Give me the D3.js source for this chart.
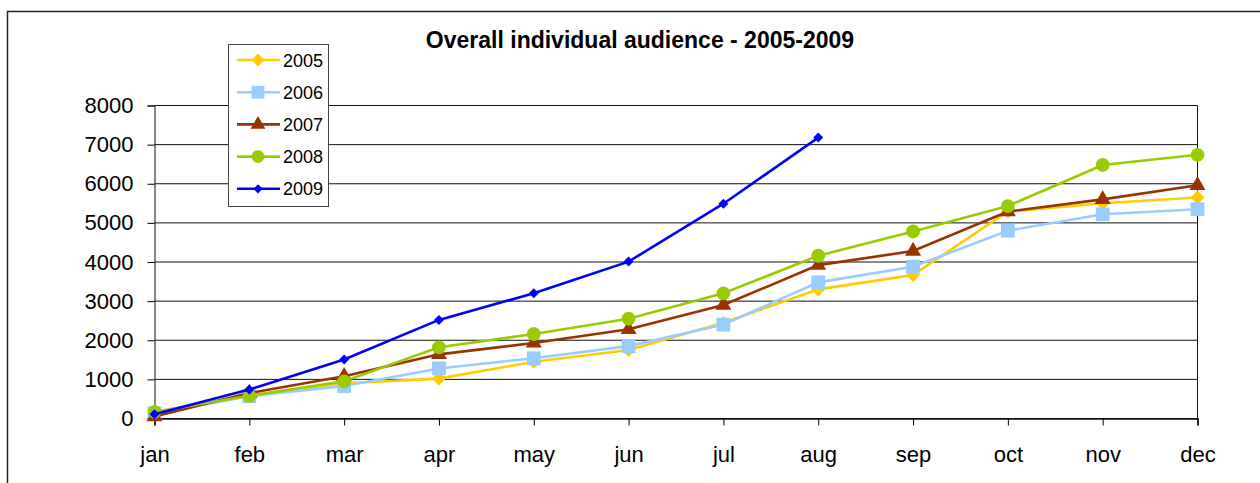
<!DOCTYPE html>
<html>
<head>
<meta charset="utf-8">
<script src="https://cdn.jsdelivr.net/npm/d3@7"></script>
<style>
  body { margin: 0; background: #fff; }
  text { font-family: "Liberation Sans", Arial, sans-serif; }
</style>
</head>
<body>
<svg></svg>
<script>
// values
const months = ["jan", "feb", "mar", "apr", "may", "jun", "jul", "aug", "sep", "oct", "nov", "dec"];
const years = ["2005", "2006", "2007", "2008", "2009"];
const s2005 = [100, 600, 900, 1020, 1450, 1750, 2450, 3300, 3670, 5290, 5500, 5650];
const s2006 = [130, 570, 830, 1280, 1540, 1850, 2400, 3480, 3880, 4800, 5220, 5350];
const s2007 = [50, 650, 1080, 1640, 1930, 2280, 2900, 3920, 4280, 5290, 5600, 5960];
const s2008 = [170, 580, 950, 1820, 2160, 2550, 3200, 4160, 4780, 5430, 6480, 6740];
const s2009 = [110, 740, 1510, 2520, 3200, 4010, 5490, 7180];
const yTicks = [0, 1000, 2000, 3000, 4000, 5000, 6000, 7000, 8000];

const svgWidth = 1260;
const svgHeight = 483;

// excel style diamond (square turned 45deg)
const diamond = {
    draw(ctx, size) {
        const r = Math.sqrt(size / 2);
        ctx.moveTo(0, -r);
        ctx.lineTo(r, 0);
        ctx.lineTo(0, r);
        ctx.lineTo(-r, 0);
        ctx.closePath();
    }
};

const series = [
    { name: years[0], values: s2005, color: "#FFCC00", shape: diamond, size: 98 },
    { name: years[1], values: s2006, color: "#99CCFF", shape: d3.symbolSquare, size: 190 },
    { name: years[2], values: s2007, color: "#993300", shape: d3.symbolTriangle, size: 110 },
    { name: years[3], values: s2008, color: "#99CC00", shape: d3.symbolCircle, size: 150 },
    { name: years[4], values: s2009, color: "#0000FF", shape: diamond, size: 50 }
];

function drawChart() {
    const svg = d3.select("svg")
        .attr("width", svgWidth)
        .attr("height", svgHeight);

    // chart border (only top and left show in the frame)
    svg.append("rect")
        .attr("x", 7.5).attr("y", 11.5)
        .attr("width", 1300).attr("height", 500)
        .attr("fill", "none")
        .attr("stroke", "#222")
        .attr("stroke-width", 1.5);

    const x = d3.scalePoint().domain(months).range([154.5, 1197.5]);
    const y = d3.scaleLinear().domain([0, 8000]).range([418.5, 105.5]);

    svg.append("text")
        .attr("x", 640).attr("y", 48)
        .attr("text-anchor", "middle")
        .style("font-size", "23px")
        .style("font-weight", "bold")
        .text("Overall individual audience - 2005-2009");

    // gridlines
    svg.append("g")
        .selectAll("line")
        .data(yTicks)
        .enter()
        .append("line")
        .attr("x1", 154.5).attr("x2", 1197.5)
        .attr("y1", d => y(d)).attr("y2", d => y(d))
        .attr("stroke", "#111")
        .attr("stroke-width", 1);

    // right edge of plot
    svg.append("line")
        .attr("x1", 1197.5).attr("x2", 1197.5)
        .attr("y1", y(8000)).attr("y2", y(0))
        .attr("stroke", "#111");

    const yAxis = svg.append("g")
        .attr("transform", "translate(154.5,0)")
        .call(d3.axisLeft(y).tickValues(yTicks).tickSize(7).tickPadding(14).tickFormat(d3.format("d")));
    yAxis.selectAll("text").style("font-size", "22px").attr("fill", "#000");
    yAxis.select(".domain").attr("stroke", "#111");

    const xAxis = svg.append("g")
        .attr("transform", "translate(0,418.5)")
        .call(d3.axisBottom(x).tickSize(7).tickPadding(36));
    xAxis.selectAll("text").style("font-size", "22px").attr("fill", "#000").attr("dy", 0);
    xAxis.select(".domain").attr("stroke", "#111").attr("stroke-width", 1.5);

    const line = d3.line()
        .x((d, i) => x(months[i]))
        .y(d => y(d));

    series.forEach(s => {
        const g = svg.append("g");
        g.append("path")
            .attr("d", line(s.values))
            .attr("fill", "none")
            .attr("stroke", s.color)
            .attr("stroke-width", 2.6);
        g.selectAll("path.mark")
            .data(s.values)
            .enter()
            .append("path")
            .attr("class", "mark")
            .attr("d", d3.symbol().type(s.shape).size(s.size))
            .attr("transform", (d, i) => `translate(${x(months[i])},${y(d)})`)
            .attr("fill", s.color);
    });

    // legend
    const legend = svg.append("g");
    legend.append("rect")
        .attr("x", 228.5).attr("y", 44.5)
        .attr("width", 100).attr("height", 162)
        .attr("fill", "#fff")
        .attr("stroke", "#444");

    const item = legend.selectAll("g.item")
        .data(series)
        .enter()
        .append("g")
        .attr("class", "item")
        .attr("transform", (d, i) => `translate(0,${60 + i * 32.2})`);
    item.append("line")
        .attr("x1", 237).attr("x2", 280)
        .attr("stroke", d => d.color)
        .attr("stroke-width", 2.6);
    item.append("path")
        .attr("d", d => d3.symbol().type(d.shape).size(d.size * 0.85)())
        .attr("transform", "translate(258,0)")
        .attr("fill", d => d.color);
    item.append("text")
        .attr("x", 283).attr("y", 6.5)
        .style("font-size", "18px")
        .text(d => d.name);
}

drawChart();
</script>
</body>
</html>
